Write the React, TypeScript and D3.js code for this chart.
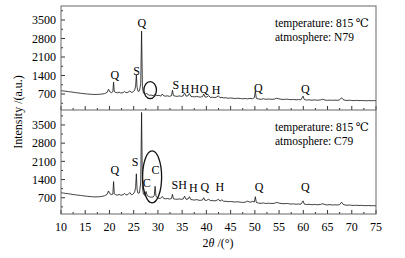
import React from "react";
import * as d3 from "d3";

// N79 pattern: [2θ, intensity]
const seriesN79: [number, number][] = [
  [10, 825], [10.5, 815], [11, 805], [11.5, 790], [12, 780], [12.5, 768], [13, 752], [13.5, 742], [14, 730],
  [14.5, 718], [15, 708], [15.5, 700], [16, 692], [16.5, 686], [17, 682], [17.5, 684], [18, 690], [18.5, 700],
  [19, 716], [19.5, 760], [19.8, 880], [20.1, 780], [20.4, 750], [20.7, 790], [20.85, 1150], [21.0, 790],
  [21.3, 760], [21.7, 745], [22.0, 770], [22.3, 740], [22.8, 750], [23.1, 800], [23.4, 750], [23.8, 760],
  [24.2, 820], [24.5, 760], [24.8, 770], [25.2, 850], [25.4, 1000], [25.55, 1420], [25.7, 950], [25.9, 800],
  [26.2, 820], [26.45, 1100], [26.63, 3080], [26.8, 980], [27.0, 740], [27.4, 700], [27.7, 720], [28.0, 670],
  [28.3, 650], [28.6, 660], [29.0, 640], [29.4, 680], [29.8, 640], [30.2, 650], [30.6, 620], [30.9, 700],
  [31.2, 630], [31.6, 620], [32.0, 630], [32.4, 610], [32.8, 640], [33.0, 840], [33.2, 640], [33.6, 620],
  [34.0, 610], [34.4, 630], [34.8, 610], [35.2, 630], [35.5, 740], [35.8, 620], [36.2, 630], [36.5, 720],
  [36.8, 610], [37.2, 600], [37.6, 590], [38.0, 610], [38.4, 590], [38.8, 585], [39.2, 600], [39.45, 700],
  [39.7, 590], [40.0, 580], [40.5, 640], [40.8, 570], [41.2, 580], [41.6, 565], [42.0, 575], [42.5, 630],
  [42.8, 560], [43.2, 575], [43.6, 550], [44.0, 560], [44.5, 540], [45.0, 550], [45.5, 540], [46.0, 530],
  [46.5, 540], [47.0, 530], [47.5, 520], [48.0, 530], [48.5, 515], [49.0, 535], [49.5, 520], [49.9, 560],
  [50.1, 820], [50.3, 540], [50.8, 510], [51.3, 500], [51.8, 520], [52.2, 500], [52.8, 510], [53.3, 500],
  [54.0, 505], [54.5, 540], [55.0, 515], [55.4, 500], [56.0, 495], [56.5, 505], [57.0, 495], [57.5, 485],
  [58.0, 495], [58.5, 480], [59.0, 490], [59.5, 480], [59.95, 620], [60.2, 490], [60.7, 470], [61.2, 480],
  [61.8, 465], [62.3, 480], [62.8, 465], [63.5, 475], [64.0, 500], [64.5, 470], [65.0, 460], [65.5, 470],
  [66.0, 460], [66.5, 470], [67.0, 460], [67.5, 480], [67.9, 560], [68.2, 490], [68.6, 465], [69.0, 455],
  [69.5, 465], [70.0, 455], [70.5, 450], [71.0, 460], [71.5, 450], [72.0, 455], [72.5, 448], [73.0, 445],
  [73.5, 452], [74.0, 445], [74.5, 450], [75.0, 445],
];

// C79 pattern: [2θ, intensity]
const seriesC79: [number, number][] = [
  [10, 890], [10.5, 880], [11, 865], [11.5, 855], [12, 840], [12.5, 825], [13, 812], [13.5, 800], [14, 790],
  [14.5, 778], [15, 765], [15.5, 755], [16, 745], [16.5, 738], [17, 732], [17.5, 735], [18, 742], [18.5, 755],
  [19, 775], [19.5, 830], [19.8, 960], [20.1, 850], [20.4, 820], [20.7, 840], [20.85, 1320], [21.0, 850],
  [21.3, 815], [21.7, 800], [22.0, 830], [22.3, 800], [22.8, 810], [23.1, 870], [23.4, 810], [23.8, 820],
  [24.2, 900], [24.5, 820], [24.8, 830], [25.2, 920], [25.4, 1100], [25.55, 1620], [25.7, 1020], [25.9, 870],
  [26.2, 890], [26.45, 1300], [26.63, 3980], [26.8, 1100], [27.0, 840], [27.3, 790], [27.55, 940], [27.8, 780],
  [28.2, 740], [28.6, 720], [29.0, 730], [29.25, 790], [29.42, 1140], [29.6, 750], [30.0, 690], [30.5, 670],
  [30.9, 750], [31.2, 670], [31.6, 660], [32.0, 670], [32.4, 650], [32.8, 670], [33.0, 830], [33.2, 660],
  [33.6, 645], [34.0, 640], [34.4, 655], [34.8, 640], [35.2, 650], [35.5, 760], [35.8, 640], [36.2, 650],
  [36.5, 740], [36.8, 630], [37.2, 620], [37.6, 610], [38.0, 630], [38.4, 605], [38.8, 600], [39.2, 615],
  [39.45, 700], [39.7, 605], [40.0, 595], [40.5, 650], [40.8, 585], [41.2, 595], [41.6, 580], [42.0, 590],
  [42.5, 640], [42.8, 570], [43.2, 620], [43.6, 560], [44.0, 565], [44.5, 550], [45.0, 555], [45.5, 545],
  [46.0, 535], [46.5, 545], [47.0, 530], [47.5, 520], [48.0, 530], [48.5, 570], [49.0, 525], [49.5, 560],
  [49.9, 540], [50.1, 740], [50.3, 520], [50.8, 495], [51.3, 485], [51.8, 500], [52.2, 480], [52.8, 490],
  [53.3, 480], [54.0, 485], [54.5, 520], [55.0, 495], [55.4, 480], [56.0, 470], [56.5, 480], [57.0, 470],
  [57.5, 455], [58.0, 465], [58.5, 450], [59.0, 460], [59.5, 450], [59.95, 580], [60.2, 455], [60.7, 440],
  [61.2, 450], [61.8, 430], [62.3, 445], [62.8, 430], [63.5, 440], [64.0, 470], [64.5, 435], [65.0, 425],
  [65.5, 435], [66.0, 420], [66.5, 430], [67.0, 420], [67.5, 440], [67.9, 530], [68.2, 450], [68.6, 420],
  [69.0, 410], [69.5, 420], [70.0, 410], [70.5, 405], [71.0, 412], [71.5, 400], [72.0, 408], [72.5, 398],
  [73.0, 395], [73.5, 402], [74.0, 392], [74.5, 398], [75.0, 390],
];

// peak labels: [text, 2θ, intensity]
const labelsN79: [string, number, number][] = [
  ["Q", 21.1, 1420], ["S", 25.6, 1570], ["Q", 26.7, 3380], ["S", 33.7, 1040], ["H", 35.6, 880],
  ["H", 37.6, 880], ["Q", 39.5, 900], ["H", 42.0, 850], ["Q", 50.7, 920], ["Q", 60.4, 900],
];
const labelsC79: [string, number, number][] = [
  ["Q", 21.1, 1770], ["S", 25.3, 2080], ["C", 27.7, 1260], ["C", 29.5, 1770], ["SH", 34.4, 1190],
  ["H", 37.3, 1090], ["Q", 39.7, 1120], ["H", 42.8, 1120], ["Q", 50.9, 1120], ["Q", 60.4, 1120],
];
// marked regions: [2θ, intensity] centres
const circleN79: [number, number] = [28.4, 850];
const circleC79: [number, number] = [28.8, 1500];

const xTicks = [10, 15, 20, 25, 30, 35, 40, 45, 50, 55, 60, 65, 70, 75];
const yTicks = [700, 1400, 2100, 2800, 3500];
const infoN79 = ["temperature: 815 ℃", "atmosphere: N79"];
const infoC79 = ["temperature: 815 ℃", "atmosphere: C79"];

const L = 61, R = 376, T = 6, M = 110, B = 214;
const font = "Liberation Serif, Times New Roman, DejaVu Serif, serif";
const fs: React.CSSProperties = { fontFamily: font };

function Panel({ id, data, labels, circle, info, top, bottom, domain, ellipse, showX }: any) {
  const x = d3.scaleLinear().domain([10, 75]).range([L, R]);
  const y = d3.scaleLinear().domain(domain).range([bottom, top]);
  const line = d3.line<[number, number]>().x((d) => x(d[0])).y((d) => y(d[1]));
  const minorY = d3.range(350, 4000, 350).filter((v) => v % 700 !== 0);
  const minorX = d3.range(12.5, 75, 5);
  return (
    <g>
      <clipPath id={id}>
        <rect x={L} y={top} width={R - L} height={bottom - top} />
      </clipPath>
      <path d={line(data) || ""} fill="none" stroke="#111" strokeWidth={0.8} clipPath={`url(#${id})`} />
      {yTicks.map((v) => (
        <g key={v}>
          <line x1={L} x2={L + 4} y1={y(v)} y2={y(v)} stroke="#333" />
          <text x={L - 5} y={y(v)} dy="0.35em" textAnchor="end" fontSize={12} style={fs}>{v}</text>
        </g>
      ))}
      {minorY.map((v) => (
        <line key={v} x1={L} x2={L + 2} y1={y(v)} y2={y(v)} stroke="#333" />
      ))}
      {xTicks.map((v) => (
        <g key={v}>
          <line x1={x(v)} x2={x(v)} y1={bottom} y2={bottom - 4} stroke="#333" />
          {showX && (
            <text x={x(v)} y={bottom + 17} textAnchor="middle" fontSize={12} style={fs}>{v}</text>
          )}
        </g>
      ))}
      {minorX.map((v) => (
        <line key={v} x1={x(v)} x2={x(v)} y1={bottom} y2={bottom - 2} stroke="#333" />
      ))}
      {labels.map((l: any, i: number) => (
        <text key={i} x={x(l[1])} y={y(l[2])} dy="0.35em" textAnchor="middle" fontSize={12} style={fs}>{l[0]}</text>
      ))}
      <ellipse cx={x(circle[0])} cy={y(circle[1])} rx={ellipse[0]} ry={ellipse[1]} fill="none" stroke="#111" strokeWidth={1.3} />
      <text x={275} y={top + 21} fontSize={11.5} style={fs}>{info[0]}</text>
      <text x={275} y={top + 35} fontSize={11.5} style={fs}>{info[1]}</text>
    </g>
  );
}

export default function App() {
  return (
    <svg width={405} height={258} style={{ position: "absolute", left: 0, top: 0, background: "#fff" }}>
      <rect x={0} y={0} width={405} height={258} fill="#fff" />
      <Panel id="cN" data={seriesN79} labels={labelsN79} circle={circleN79} info={infoN79}
        top={T} bottom={M} domain={[95, 4030]} ellipse={[6.3, 8.5]} showX={false} />
      <Panel id="cC" data={seriesC79} labels={labelsC79} circle={circleC79} info={infoC79}
        top={M} bottom={B} domain={[75, 4075]} ellipse={[9.5, 26]} showX={true} />
      <rect x={L} y={T} width={R - L} height={B - T} fill="none" stroke="#666" strokeWidth={1} />
      <line x1={L} x2={R} y1={M} y2={M} stroke="#666" />
      <text transform={`translate(22,${(T + B) / 2 + 2}) rotate(-90)`} textAnchor="middle" fontSize={12} style={fs}>
        Intensity /(a.u.)
      </text>
      <text x={218} y={247} textAnchor="middle" fontSize={12} style={fs}>
        2<tspan fontStyle="italic">θ</tspan> /(°)
      </text>
    </svg>
  );
}
